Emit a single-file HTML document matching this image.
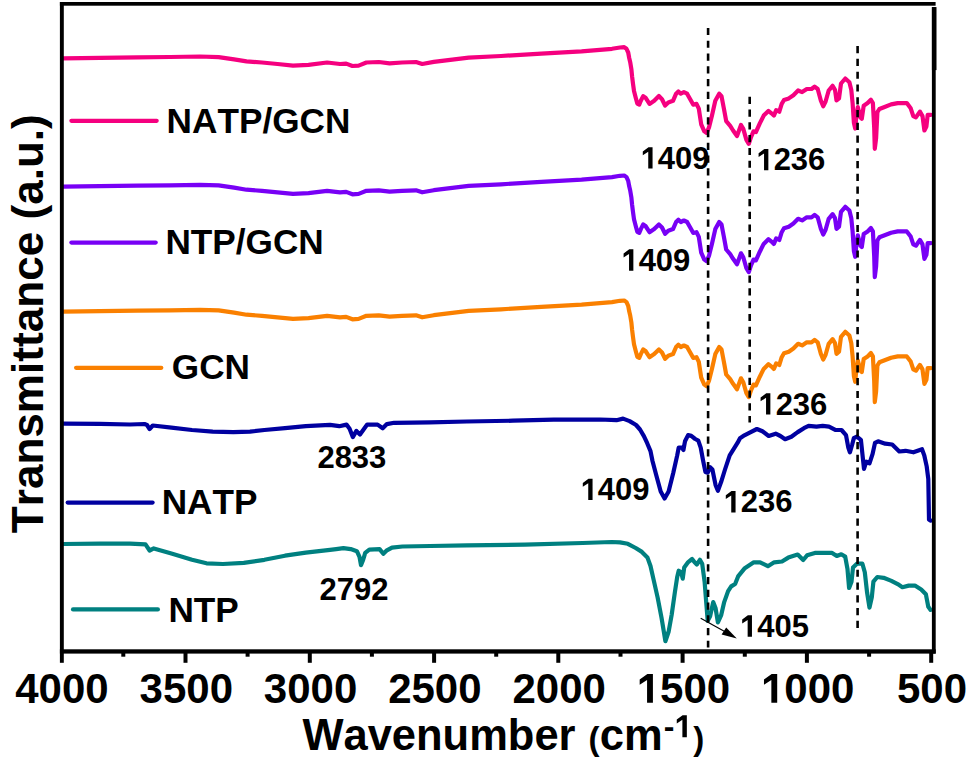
<!DOCTYPE html>
<html><head><meta charset="utf-8"><title>FTIR</title>
<style>
html,body{margin:0;padding:0;background:#fff;}
body{width:967px;height:766px;overflow:hidden;}
svg{display:block;font-family:"Liberation Sans", sans-serif;}
text{font-family:"Liberation Sans", sans-serif;font-kerning:none;}
</style></head><body>
<svg width="967" height="766" viewBox="0 0 967 766">
<rect x="0" y="0" width="967" height="766" fill="#fff"/>

<path d="M63.0,58.3 L100.0,57.8 L137.5,57.4 L170.0,57.0 L200.0,56.5 L218.6,57.1 L234.1,59.4 L246.5,61.4 L262.0,62.5 L277.5,64.0 L293.0,65.6 L308.5,64.8 L327.1,62.5 L340.0,64.0 L346.2,63.6 L352.4,66.0 L358.6,65.6 L366.4,62.5 L378.8,62.0 L389.6,63.3 L402.0,62.5 L416.0,62.0 L422.2,64.0 L433.8,61.9 L468.7,57.6 L501.0,56.0 L541.3,53.6 L581.6,51.3 L612.0,48.8 L620.0,47.5 L624.2,47.2 L626.5,48.8 L628.2,52.5 L629.2,58.0 L630.2,62.2 L631.4,69.4 L632.1,76.5 L633.0,83.7 L634.0,90.9 L635.8,98.0 L637.3,103.5 L639.3,104.5 L640.8,100.8 L643.2,96.1 L645.5,97.7 L649.5,103.9 L654.2,100.8 L658.9,96.1 L662.0,99.2 L665.1,105.5 L668.3,102.4 L673.0,100.8 L676.1,93.7 L678.4,91.4 L680.8,93.7 L683.9,92.2 L687.1,93.7 L690.2,99.2 L693.3,104.7 L696.5,103.9 L698.8,108.6 L701.2,124.3 L704.3,131.3 L706.7,132.9 L709.0,127.4 L712.1,114.9 L715.3,100.8 L719.2,93.7 L721.5,96.1 L723.9,108.6 L726.2,121.2 L730.2,125.9 L733.1,130.5 L737.0,136.0 L741.0,125.0 L743.3,128.9 L746.4,139.9 L748.8,143.8 L751.1,136.8 L753.5,131.3 L755.9,132.1 L759.8,123.4 L763.7,115.6 L768.4,110.9 L771.5,113.3 L773.9,115.6 L776.2,110.1 L779.3,111.7 L781.7,103.9 L784.0,100.0 L788.8,98.4 L793.4,95.2 L798.1,90.5 L802.1,92.1 L806.8,89.0 L811.5,89.0 L814.6,86.6 L817.7,89.0 L820.9,100.7 L823.2,106.2 L825.6,101.5 L828.7,90.5 L832.6,85.8 L835.0,89.8 L836.5,100.5 L839.0,98.4 L841.0,83.5 L845.3,78.5 L849.4,82.2 L851.3,90.0 L852.6,103.1 L853.9,122.7 L855.2,128.5 L856.5,114.8 L857.8,107.0 L860.5,117.4 L861.8,118.7 L863.7,105.7 L867.6,103.1 L870.9,99.8 L872.9,103.1 L874.2,127.9 L874.8,148.8 L876.1,138.3 L877.4,112.2 L879.4,109.0 L884.6,107.0 L891.1,104.4 L897.7,103.1 L906.8,103.1 L910.7,108.3 L913.3,116.1 L915.9,117.4 L919.9,111.6 L922.5,116.1 L924.4,130.5 L926.4,126.6 L927.7,114.8 L931.0,114.8" fill="none" stroke="#f5007f" stroke-width="4.2" stroke-linejoin="round" stroke-linecap="round"/>
<path d="M63.0,186.6 L100.0,186.1 L137.5,185.7 L170.0,185.3 L200.0,184.8 L218.6,185.4 L234.1,187.7 L246.5,189.7 L262.0,190.8 L277.5,192.3 L293.0,193.9 L308.5,193.1 L327.1,190.8 L340.0,192.3 L346.2,191.9 L352.4,194.3 L358.6,193.9 L366.4,190.8 L378.8,190.3 L389.6,191.6 L402.0,190.8 L416.0,190.3 L422.2,192.3 L433.8,190.2 L468.7,185.9 L501.0,184.3 L541.3,181.9 L581.6,179.6 L612.0,177.1 L620.0,175.8 L624.2,175.5 L626.5,177.1 L628.2,180.8 L629.2,186.3 L630.2,190.5 L631.4,197.7 L632.1,204.8 L633.0,212.0 L634.0,219.2 L635.8,226.3 L637.3,231.8 L639.3,232.8 L640.8,229.1 L643.2,224.4 L645.5,226.0 L649.5,232.2 L654.2,229.1 L658.9,224.4 L662.0,227.5 L665.1,233.8 L668.3,230.7 L673.0,229.1 L676.1,222.0 L678.4,219.7 L680.8,222.0 L683.9,220.5 L687.1,222.0 L690.2,227.5 L693.3,233.0 L696.5,232.2 L698.8,236.9 L701.2,252.6 L704.3,259.6 L706.7,261.2 L709.0,255.7 L712.1,243.2 L715.3,229.1 L719.2,222.0 L721.5,224.4 L723.9,236.9 L726.2,249.5 L730.2,254.2 L733.1,258.8 L737.0,264.3 L741.0,253.3 L743.3,257.2 L746.4,268.2 L748.8,272.1 L751.1,265.1 L753.5,259.6 L755.9,260.4 L759.8,251.7 L763.7,243.9 L768.4,239.2 L771.5,241.6 L773.9,243.9 L776.2,238.4 L779.3,240.0 L781.7,232.2 L784.0,228.3 L788.8,226.7 L793.4,223.5 L798.1,218.8 L802.1,220.4 L806.8,217.3 L811.5,217.3 L814.6,214.9 L817.7,217.3 L820.9,229.0 L823.2,234.5 L825.6,229.8 L828.7,218.8 L832.6,214.1 L835.0,218.1 L836.5,228.8 L839.0,226.7 L841.0,211.8 L845.3,206.8 L849.4,210.5 L851.3,218.3 L852.6,231.4 L853.9,251.0 L855.2,256.8 L856.5,243.1 L857.8,235.3 L860.5,245.7 L861.8,247.0 L863.7,234.0 L867.6,231.4 L870.9,228.1 L872.9,231.4 L874.2,256.2 L874.8,277.1 L876.1,266.6 L877.4,240.5 L879.4,237.3 L884.6,235.3 L891.1,232.7 L897.7,231.4 L906.8,231.4 L910.7,236.6 L913.3,244.4 L915.9,245.7 L919.9,239.9 L922.5,244.4 L924.4,258.8 L926.4,254.9 L927.7,243.1 L931.0,243.1" fill="none" stroke="#7800f5" stroke-width="4.2" stroke-linejoin="round" stroke-linecap="round"/>
<path d="M63.0,311.6 L100.0,311.1 L137.5,310.7 L170.0,310.3 L200.0,309.8 L218.6,310.4 L234.1,312.7 L246.5,314.7 L262.0,315.8 L277.5,317.3 L293.0,318.9 L308.5,318.1 L327.1,315.8 L340.0,317.3 L346.2,316.9 L352.4,319.3 L358.6,318.9 L366.4,315.8 L378.8,315.3 L389.6,316.6 L402.0,315.8 L416.0,315.3 L422.2,317.3 L433.8,315.2 L468.7,310.9 L501.0,309.3 L541.3,306.9 L581.6,304.6 L612.0,302.1 L620.0,300.8 L624.2,300.5 L626.5,302.1 L628.2,305.8 L629.2,311.3 L630.2,315.5 L631.4,322.7 L632.1,329.8 L633.0,337.0 L634.0,344.2 L635.8,351.3 L637.3,356.8 L639.3,357.8 L640.8,354.1 L643.2,349.4 L645.5,351.0 L649.5,357.2 L654.2,354.1 L658.9,349.4 L662.0,352.5 L665.1,358.8 L668.3,355.7 L673.0,354.1 L676.1,347.0 L678.4,344.7 L680.8,347.0 L683.9,345.5 L687.1,347.0 L690.2,352.5 L693.3,358.0 L696.5,357.2 L698.8,361.9 L701.2,377.6 L704.3,384.6 L706.7,386.2 L709.0,380.7 L712.1,368.2 L715.3,354.1 L719.2,347.0 L721.5,349.4 L723.9,361.9 L726.2,374.5 L730.2,379.2 L733.1,383.8 L737.0,389.3 L741.0,378.3 L743.3,382.2 L746.4,393.2 L748.8,397.1 L751.1,390.1 L753.5,384.6 L755.9,385.4 L759.8,376.7 L763.7,368.9 L768.4,364.2 L771.5,366.6 L773.9,368.9 L776.2,363.4 L779.3,365.0 L781.7,357.2 L784.0,353.3 L788.8,351.7 L793.4,348.5 L798.1,343.8 L802.1,345.4 L806.8,342.3 L811.5,342.3 L814.6,339.9 L817.7,342.3 L820.9,354.0 L823.2,359.5 L825.6,354.8 L828.7,343.8 L832.6,339.1 L835.0,343.1 L836.5,353.8 L839.0,351.7 L841.0,336.8 L845.3,331.8 L849.4,335.5 L851.3,343.3 L852.6,356.4 L853.9,376.0 L855.2,381.8 L856.5,368.1 L857.8,360.3 L860.5,370.7 L861.8,372.0 L863.7,359.0 L867.6,356.4 L870.9,353.1 L872.9,356.4 L874.2,381.2 L874.8,402.1 L876.1,391.6 L877.4,365.5 L879.4,362.3 L884.6,360.3 L891.1,357.7 L897.7,356.4 L906.8,356.4 L910.7,361.6 L913.3,369.4 L915.9,370.7 L919.9,364.9 L922.5,369.4 L924.4,383.8 L926.4,379.9 L927.7,368.1 L931.0,368.1" fill="none" stroke="#fa8000" stroke-width="4.2" stroke-linejoin="round" stroke-linecap="round"/>
<path d="M63.0,423.6 L100.0,423.8 L130.0,424.5 L144.5,424.0 L147.0,425.0 L149.6,429.0 L152.8,425.5 L171.4,427.6 L192.0,430.0 L212.7,431.7 L233.4,432.1 L250.0,431.7 L264.4,430.0 L285.0,428.2 L305.8,426.1 L330.0,424.9 L339.3,426.2 L346.5,424.6 L349.6,428.8 L352.8,437.1 L356.4,430.9 L360.0,434.5 L364.1,428.8 L367.2,424.6 L377.6,424.6 L382.7,428.3 L386.9,424.1 L394.1,422.8 L412.7,422.6 L430.0,422.4 L466.9,421.5 L513.0,420.7 L553.7,419.7 L600.0,419.5 L616.5,420.2 L623.1,418.6 L629.6,421.1 L636.1,425.0 L640.0,429.5 L643.9,436.1 L647.2,443.2 L650.5,451.1 L652.5,461.0 L656.0,474.2 L660.7,491.5 L664.6,498.5 L668.6,491.5 L673.3,472.7 L677.2,455.4 L678.7,447.6 L681.9,447.6 L683.4,450.0 L685.0,441.3 L688.1,435.1 L691.3,435.9 L695.2,439.0 L698.3,440.6 L700.7,447.6 L703.0,460.1 L705.4,471.9 L707.7,472.7 L710.1,467.2 L712.4,469.5 L715.6,485.2 L717.9,490.7 L721.1,482.1 L725.0,469.5 L729.7,455.4 L733.6,449.2 L737.5,442.9 L740.0,438.2 L744.4,435.3 L750.7,432.1 L756.9,429.0 L762.4,431.3 L768.7,436.0 L775.7,433.7 L780.4,436.0 L785.1,439.2 L791.4,436.8 L797.7,432.1 L803.9,428.2 L808.6,425.9 L816.5,426.6 L822.7,425.9 L829.0,426.6 L835.3,429.8 L841.5,430.0 L846.0,435.1 L848.3,447.6 L849.9,452.3 L852.2,444.5 L853.8,438.2 L856.9,436.6 L860.9,439.8 L862.4,453.9 L864.0,468.8 L866.3,461.7 L869.5,463.3 L872.6,453.9 L875.0,442.9 L878.1,441.3 L885.2,443.7 L892.2,444.5 L899.3,451.5 L905.5,450.8 L913.4,452.3 L922.0,449.2 L924.3,455.5 L926.7,466.4 L928.3,479.0 L929.0,519.7 L930.6,520.5" fill="none" stroke="#0000a0" stroke-width="4.2" stroke-linejoin="round" stroke-linecap="round"/>
<path d="M63.0,544.0 L100.0,543.7 L130.0,543.7 L145.5,544.3 L149.6,550.5 L153.8,548.4 L171.4,553.6 L192.0,559.8 L206.5,563.3 L223.0,564.0 L243.8,562.9 L264.4,559.8 L285.0,555.7 L305.8,552.6 L330.0,549.9 L336.2,549.1 L343.4,548.1 L350.7,549.1 L356.9,551.2 L359.5,556.9 L361.0,565.2 L363.1,560.0 L365.2,552.8 L369.3,549.6 L379.6,549.1 L383.3,553.8 L386.4,550.7 L392.0,547.6 L402.4,546.5 L430.0,546.0 L466.9,545.4 L524.8,544.6 L582.7,543.0 L611.6,542.0 L620.0,542.4 L627.8,543.8 L635.7,548.0 L641.9,551.9 L647.4,557.4 L650.5,566.0 L653.7,580.1 L657.6,597.4 L661.5,617.7 L665.4,641.2 L668.6,631.8 L671.7,614.6 L674.8,592.7 L677.2,577.0 L678.7,570.7 L681.1,572.3 L682.7,578.6 L684.2,567.6 L688.2,562.1 L692.1,559.0 L694.4,562.1 L696.8,564.5 L699.9,559.8 L702.2,563.7 L704.6,581.7 L706.2,602.1 L707.7,620.9 L710.1,616.2 L713.2,602.1 L715.6,608.3 L717.9,622.4 L721.1,615.4 L724.2,602.1 L728.1,591.1 L731.2,586.4 L735.1,584.0 L738.1,576.4 L744.4,568.6 L753.8,562.3 L760.1,562.3 L767.9,566.2 L774.2,562.3 L782.0,561.5 L788.3,557.6 L797.7,554.5 L803.2,560.0 L807.1,555.3 L814.9,552.9 L822.7,552.9 L832.1,552.9 L836.8,556.0 L841.3,554.3 L845.2,556.6 L847.5,569.2 L849.1,588.0 L851.5,581.7 L853.0,567.6 L856.9,563.7 L862.4,563.7 L864.8,572.3 L867.1,592.7 L869.5,607.6 L871.8,597.4 L873.4,581.7 L877.3,577.0 L883.6,577.8 L891.4,580.9 L897.7,584.1 L902.4,587.2 L908.7,585.6 L914.9,585.6 L921.2,589.6 L925.9,594.3 L928.3,606.8 L930.6,609.9" fill="none" stroke="#008080" stroke-width="4.2" stroke-linejoin="round" stroke-linecap="round"/>
<line x1="708.1" y1="27.9" x2="708.1" y2="647.5" stroke="#000" stroke-width="2.6" stroke-dasharray="7.2 5.57"/>
<line x1="749.7" y1="96.8" x2="749.7" y2="422.6" stroke="#000" stroke-width="2.6" stroke-dasharray="7.2 5.57"/>
<line x1="857.6" y1="46.1" x2="857.6" y2="628.2" stroke="#000" stroke-width="2.6" stroke-dasharray="7.2 5.57"/>
<line x1="71.4" y1="120.8" x2="156.7" y2="120.8" stroke="#f5007f" stroke-width="4.2" stroke-linecap="round"/>
<text x="166.6" y="133.3" font-size="35.2" font-weight="bold" fill="#000">NATP/GCN</text>
<line x1="71.4" y1="242.6" x2="155.7" y2="242.6" stroke="#7800f5" stroke-width="4.2" stroke-linecap="round"/>
<text x="165.4" y="254.2" font-size="35.2" font-weight="bold" fill="#000">NTP/GCN</text>
<line x1="76.1" y1="367.8" x2="161.3" y2="367.8" stroke="#fa8000" stroke-width="4.2" stroke-linecap="round"/>
<text x="171.8" y="378.8" font-size="35.2" font-weight="bold" fill="#000">GCN</text>
<line x1="67.7" y1="502.6" x2="152.6" y2="502.6" stroke="#0000a0" stroke-width="4.2" stroke-linecap="round"/>
<text x="161.7" y="514.2" font-size="35.2" font-weight="bold" fill="#000">NATP</text>
<line x1="73.0" y1="609.4" x2="157.9" y2="609.4" stroke="#008080" stroke-width="4.2" stroke-linecap="round"/>
<text x="168.4" y="621.9" font-size="35.2" font-weight="bold" fill="#000">NTP</text>
<path d="M505 0L505 1110L145 880L145 1130L520 1409L790 1409L790 0Z" transform="translate(640.60,168.50) scale(0.01514,-0.01514)" fill="#000"/>
<text x="657.84" y="168.50" font-size="31" font-weight="bold" fill="#000">409</text>
<path d="M505 0L505 1110L145 880L145 1130L520 1409L790 1409L790 0Z" transform="translate(756.40,170.30) scale(0.01514,-0.01514)" fill="#000"/>
<text x="773.64" y="170.30" font-size="31" font-weight="bold" fill="#000">236</text>
<path d="M505 0L505 1110L145 880L145 1130L520 1409L790 1409L790 0Z" transform="translate(621.40,270.70) scale(0.01514,-0.01514)" fill="#000"/>
<text x="638.64" y="270.70" font-size="31" font-weight="bold" fill="#000">409</text>
<path d="M505 0L505 1110L145 880L145 1130L520 1409L790 1409L790 0Z" transform="translate(758.40,414.60) scale(0.01514,-0.01514)" fill="#000"/>
<text x="775.64" y="414.60" font-size="31" font-weight="bold" fill="#000">236</text>
<text x="317.40" y="467.60" font-size="31" font-weight="bold" fill="#000">2833</text>
<path d="M505 0L505 1110L145 880L145 1130L520 1409L790 1409L790 0Z" transform="translate(580.60,500.00) scale(0.01514,-0.01514)" fill="#000"/>
<text x="597.84" y="500.00" font-size="31" font-weight="bold" fill="#000">409</text>
<path d="M505 0L505 1110L145 880L145 1130L520 1409L790 1409L790 0Z" transform="translate(723.60,512.40) scale(0.01514,-0.01514)" fill="#000"/>
<text x="740.84" y="512.40" font-size="31" font-weight="bold" fill="#000">236</text>
<text x="319.60" y="599.80" font-size="31" font-weight="bold" fill="#000">2792</text>
<path d="M505 0L505 1110L145 880L145 1130L520 1409L790 1409L790 0Z" transform="translate(740.00,636.70) scale(0.01514,-0.01514)" fill="#000"/>
<text x="757.24" y="636.70" font-size="31" font-weight="bold" fill="#000">405</text>
<line x1="700.7" y1="618.3" x2="726" y2="632.3" stroke="#000" stroke-width="1.2"/>
<polygon points="736.8,638.4 726.2,627.6 721.6,634.6" fill="#000"/>
<rect x="59.9" y="2" width="875.7" height="3.7" fill="#000"/>
<rect x="59.9" y="2" width="3.9" height="660.8" fill="#000"/>
<rect x="59.9" y="649.3" width="875.8" height="4.3" fill="#000"/>
<rect x="931.9" y="7.1" width="3.8" height="646.5" fill="#000"/>
<rect x="931.9" y="7.1" width="4.6" height="63" fill="#000"/>
<text x="15.28" y="702.80" font-size="42" font-weight="bold" fill="#000">4000</text>
<line x1="185.5" y1="651" x2="185.5" y2="662.8" stroke="#000" stroke-width="4"/>
<text x="139.57" y="702.80" font-size="42" font-weight="bold" fill="#000">3500</text>
<line x1="309.8" y1="651" x2="309.8" y2="662.8" stroke="#000" stroke-width="4"/>
<text x="263.85" y="702.80" font-size="42" font-weight="bold" fill="#000">3000</text>
<line x1="434.1" y1="651" x2="434.1" y2="662.8" stroke="#000" stroke-width="4"/>
<text x="388.14" y="702.80" font-size="42" font-weight="bold" fill="#000">2500</text>
<line x1="558.3" y1="651" x2="558.3" y2="662.8" stroke="#000" stroke-width="4"/>
<text x="512.43" y="702.80" font-size="42" font-weight="bold" fill="#000">2000</text>
<line x1="682.6" y1="651" x2="682.6" y2="662.8" stroke="#000" stroke-width="4"/>
<path d="M505 0L505 1110L145 880L145 1130L520 1409L790 1409L790 0Z" transform="translate(636.71,702.80) scale(0.02051,-0.02051)" fill="#000"/>
<text x="660.07" y="702.80" font-size="42" font-weight="bold" fill="#000">500</text>
<line x1="806.9" y1="651" x2="806.9" y2="662.8" stroke="#000" stroke-width="4"/>
<path d="M505 0L505 1110L145 880L145 1130L520 1409L790 1409L790 0Z" transform="translate(761.00,702.80) scale(0.02051,-0.02051)" fill="#000"/>
<text x="784.35" y="702.80" font-size="42" font-weight="bold" fill="#000">000</text>
<line x1="931.2" y1="651" x2="931.2" y2="662.8" stroke="#000" stroke-width="4"/>
<text x="896.96" y="702.80" font-size="42" font-weight="bold" fill="#000">500</text>
<line x1="123.3" y1="651" x2="123.3" y2="656.7" stroke="#000" stroke-width="4"/>
<line x1="247.6" y1="651" x2="247.6" y2="656.7" stroke="#000" stroke-width="4"/>
<line x1="371.9" y1="651" x2="371.9" y2="656.7" stroke="#000" stroke-width="4"/>
<line x1="496.2" y1="651" x2="496.2" y2="656.7" stroke="#000" stroke-width="4"/>
<line x1="620.5" y1="651" x2="620.5" y2="656.7" stroke="#000" stroke-width="4"/>
<line x1="744.8" y1="651" x2="744.8" y2="656.7" stroke="#000" stroke-width="4"/>
<line x1="869.1" y1="651" x2="869.1" y2="656.7" stroke="#000" stroke-width="4"/>
<text y="750.1" font-size="43.5" font-weight="bold" fill="#000"><tspan x="302.4">Wavenumber</tspan><tspan x="588.4" font-size="33">(</tspan><tspan x="599.8">cm</tspan><tspan x="663.85" y="737.2" font-size="32">-</tspan><tspan x="693.3" y="750.1" font-size="33">)</tspan></text>
<path d="M505 0L505 1110L145 880L145 1130L520 1409L790 1409L790 0Z" transform="translate(674.5,737.2) scale(0.01562,-0.01562)" fill="#000"/>
<text transform="translate(43.2,533.2) rotate(-90)" x="0" y="0" font-size="44.1" fill="#000"><tspan font-weight="bold">Transmittance (a.u.)</tspan></text>
</svg></body></html>
